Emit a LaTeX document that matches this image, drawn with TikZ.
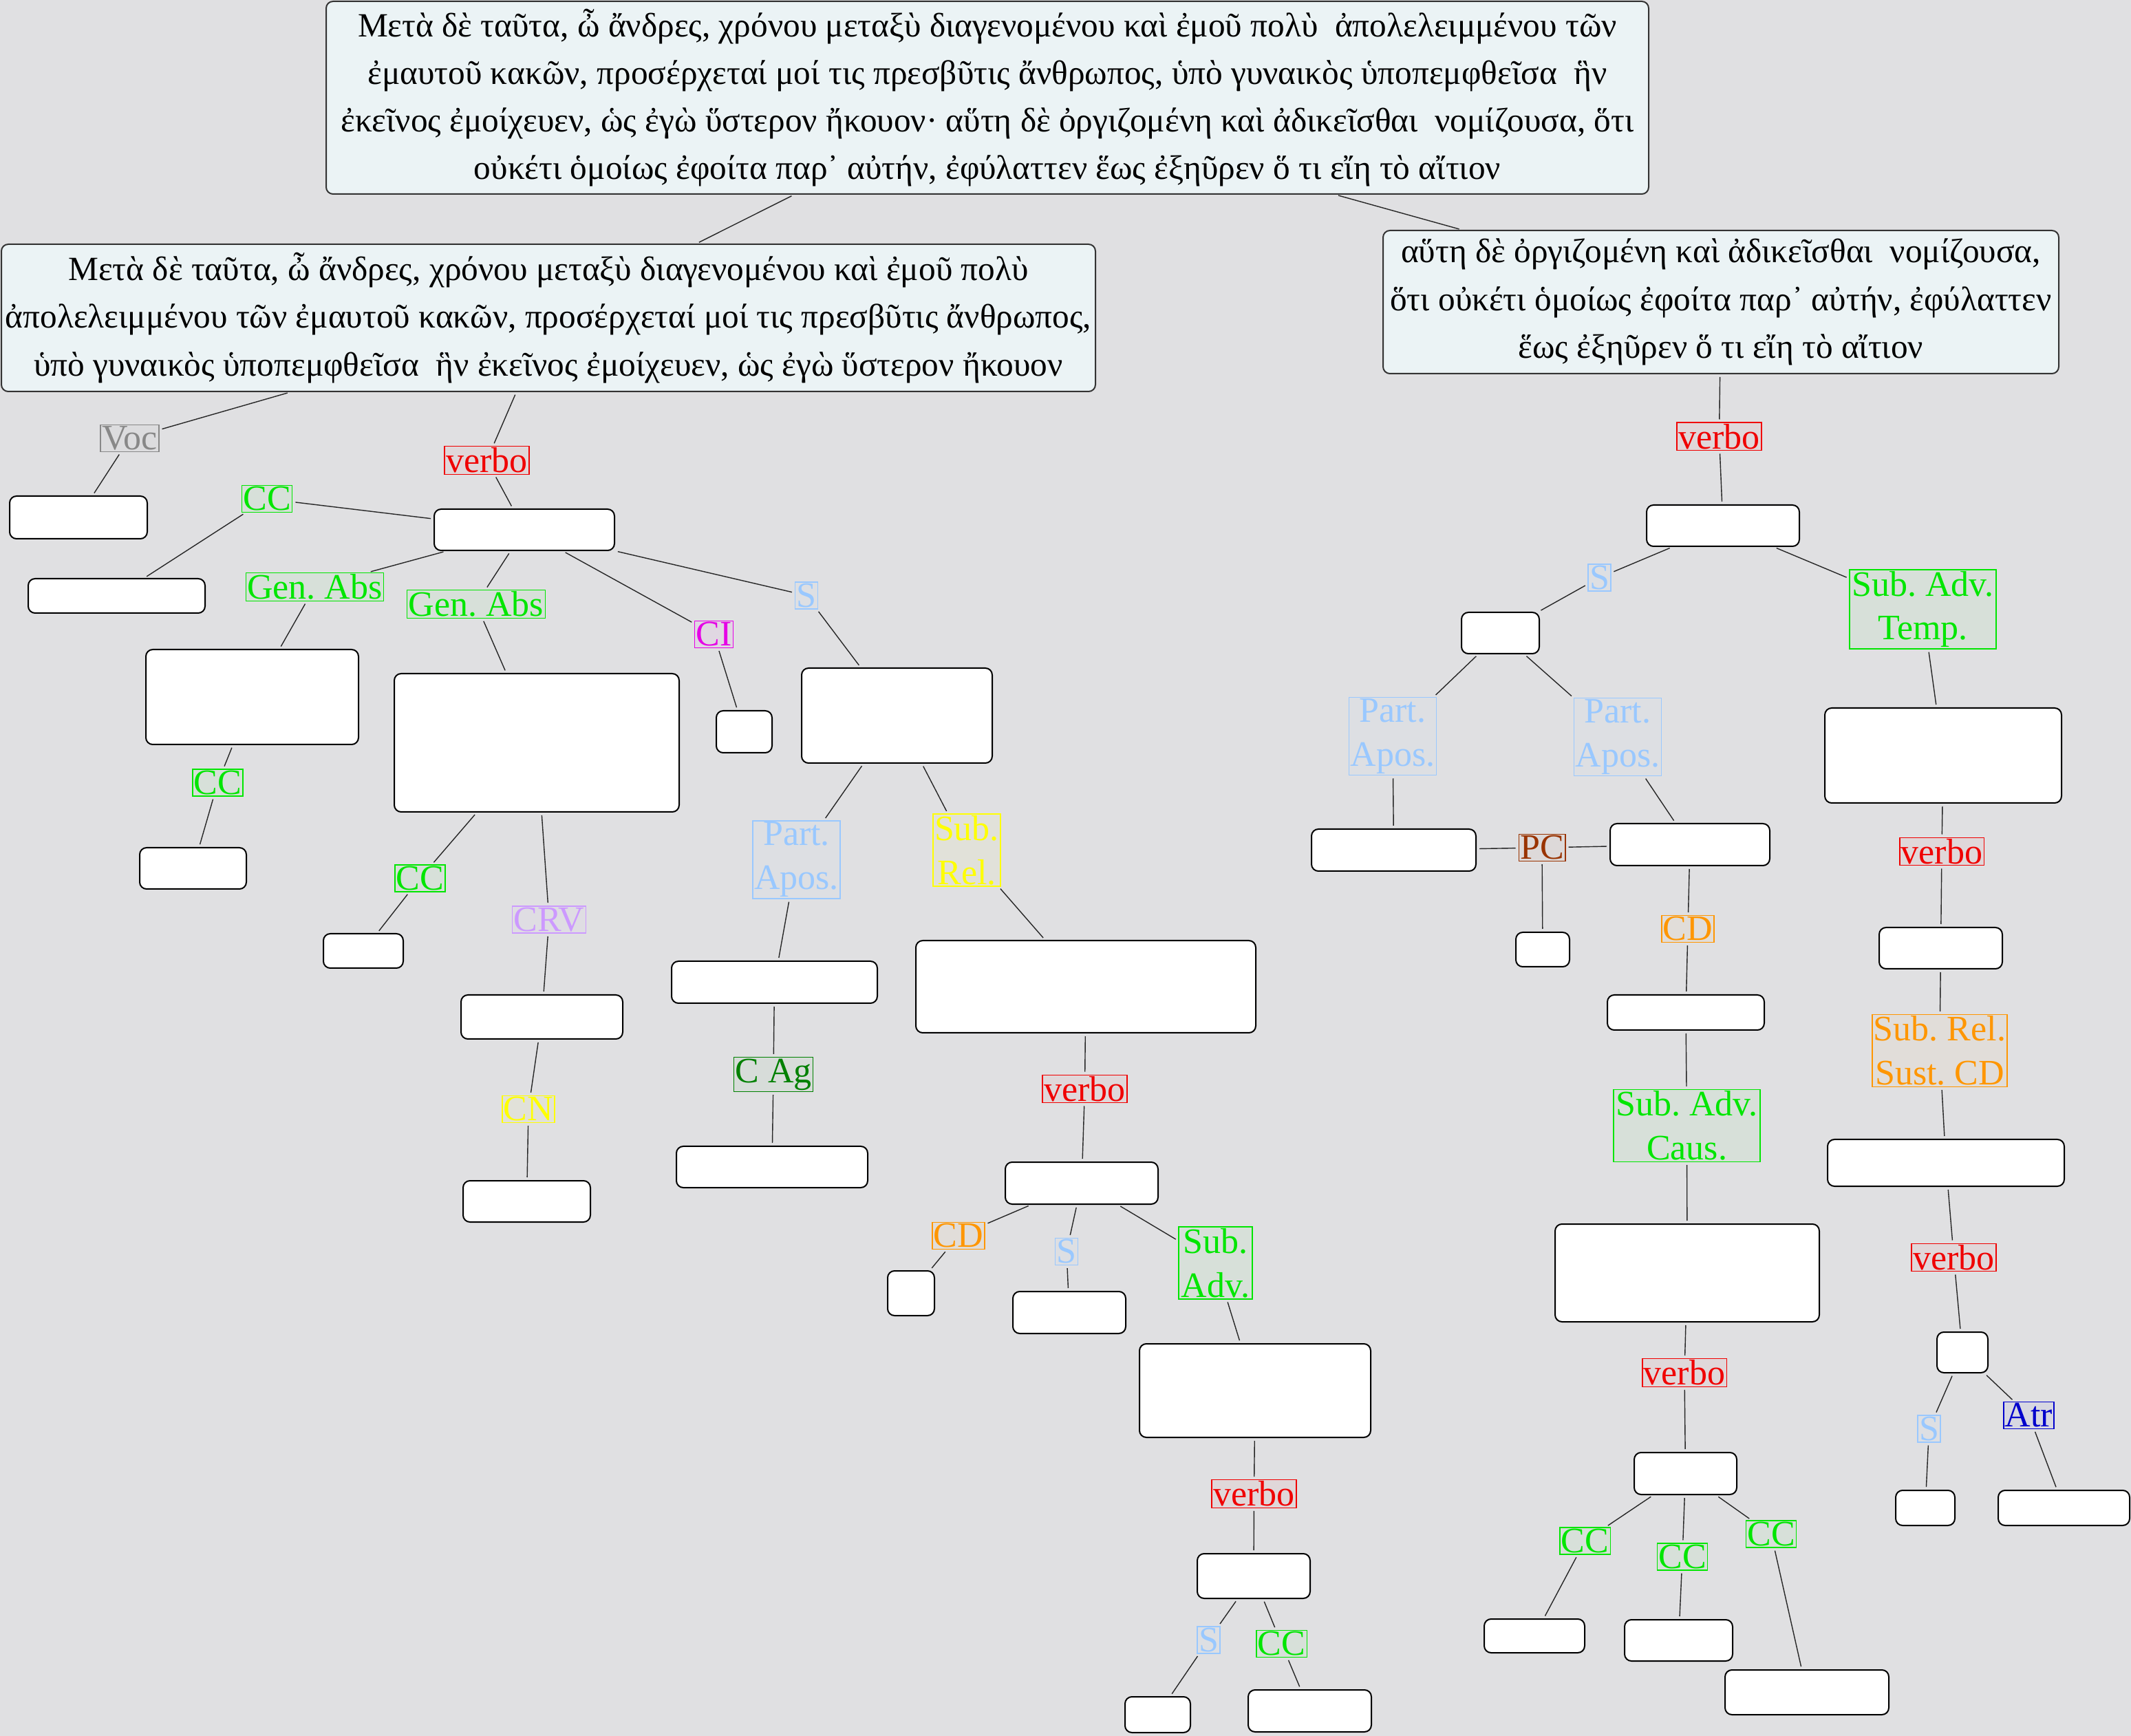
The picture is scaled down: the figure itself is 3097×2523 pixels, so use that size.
\documentclass[tikz,border=0pt]{standalone}
\usepackage{fontspec}
\setmainfont{Liberation Serif}
\frenchspacing
\definecolor{bg}{RGB}{224,224,226}
\definecolor{txtfill}{RGB}{235,243,245}
\definecolor{cgreen}{RGB}{0,230,0}
\definecolor{cred}{RGB}{240,0,0}
\definecolor{cgray}{RGB}{136,136,136}
\definecolor{cmag}{RGB}{230,0,230}
\definecolor{clblue}{RGB}{153,200,255}
\definecolor{cyellow}{RGB}{255,255,0}
\definecolor{clav}{RGB}{204,153,255}
\definecolor{cdgreen}{RGB}{0,128,0}
\definecolor{corange}{RGB}{255,150,0}
\definecolor{cbrown}{RGB}{153,51,0}
\definecolor{cblue}{RGB}{0,0,204}
\tikzset{
  box/.style={draw=black, line width=0.5pt, rounded corners=2.5pt, fill=white, inner sep=0pt},
  txt/.style={draw=black!80, line width=0.5pt, rounded corners=2.5pt, fill=txtfill, inner sep=0pt, align=center, font=\fontsize{12.33}{17.3}\selectfont},
  lab/.style={draw=#1, text=#1, fill=#1, fill opacity=0.04, text opacity=1, line width=0.35pt, inner sep=0.5pt, align=center, font=\fontsize{13}{16}\selectfont},
  link/.style={draw=black!85, line width=0.35pt, shorten <=1pt, shorten >=1pt}
}
\newcommand\mybox[6][]{\node[box,#1,minimum width={(#5-#3)*0.25pt},minimum height={(#6-#4)*0.25pt}] (#2) at ({(#3+#5)/2},{(#4+#6)/2}) {};}
\newcommand\mylab[7]{\node[lab=#2,minimum width={(#5-#3)*0.25pt},minimum height={(#6-#4)*0.25pt}] (#1) at ({(#3+#5)/2},{(#4+#6)/2}) {#7};}
\newcommand\mytxt[6]{\node[txt,minimum width={(#4-#2)*0.25pt},minimum height={(#5-#3)*0.25pt}] (#1) at ({(#2+#4)/2},{(#3+#5)/2}) {#6};}
\begin{document}
\begin{tikzpicture}[x=0.25pt,y=-0.25pt]
\useasboundingbox (0,0) rectangle (3097,2523);
\fill[bg] (0,0) rectangle (3097,2523);
% text boxes
\mytxt{T}{474}{2}{2396}{282}{Μετὰ δὲ ταῦτα, ὦ ἄνδρες, χρόνου μεταξὺ διαγενομένου καὶ ἐμοῦ πολὺ~ ἀπολελειμμένου τῶν\\ ἐμαυτοῦ κακῶν, προσέρχεταί μοί τις πρεσβῦτις ἄνθρωπος, ὑπὸ γυναικὸς ὑποπεμφθεῖσα~ ἣν\\ ἐκεῖνος ἐμοίχευεν, ὡς ἐγὼ ὕστερον ἤκουον· αὕτη δὲ ὀργιζομένη καὶ ἀδικεῖσθαι~ νομίζουσα, ὅτι\\ οὐκέτι ὁμοίως ἐφοίτα παρ᾽ αὐτήν, ἐφύλαττεν ἕως ἐξηῦρεν ὅ τι εἴη τὸ αἴτιον}
\mytxt{L}{2}{355}{1592}{569}{Μετὰ δὲ ταῦτα, ὦ ἄνδρες, χρόνου μεταξὺ διαγενομένου καὶ ἐμοῦ πολὺ\\ ἀπολελειμμένου τῶν ἐμαυτοῦ κακῶν, προσέρχεταί μοί τις πρεσβῦτις ἄνθρωπος,\\ ὑπὸ γυναικὸς ὑποπεμφθεῖσα~ ἣν ἐκεῖνος ἐμοίχευεν, ὡς ἐγὼ ὕστερον ἤκουον}
\mytxt{R}{2010}{335}{2992}{543}{αὕτη δὲ ὀργιζομένη καὶ ἀδικεῖσθαι~ νομίζουσα,\\ ὅτι οὐκέτι ὁμοίως ἐφοίτα παρ᾽ αὐτήν, ἐφύλαττεν\\ ἕως ἐξηῦρεν ὅ τι εἴη τὸ αἴτιον}
% left tree
\mylab{voc}{cgray}{146}{619}{231}{655}{Voc}
\mybox{bvoc}{14}{721}{214}{783}
\mylab{verbo1}{cred}{646}{651}{769}{687}{verbo}
\mybox{V1}{631}{740}{893}{800}
\mylab{cc1}{cgreen}{352}{707}{424}{743}{CC}
\mybox{bcc1}{41}{841}{298}{891}
\mylab{ga1}{cgreen}{359}{835}{556}{871}{Gen. Abs}
\mybox{bga1}{212}{944}{521}{1082}
\mylab{ga2}{cgreen}{594}{859}{790}{897}{Gen. Abs}
\mybox{bga2}{573}{979}{987}{1180}
\mylab{ci}{cmag}{1011}{904}{1064}{940}{CI}
\mybox{bci}{1041}{1033}{1122}{1094}
\mylab{s1}{clblue}{1158}{847}{1186}{884}{S}
\mybox{bs1}{1165}{971}{1442}{1109}
\mylab{cc2}{cgreen}{281}{1119}{352}{1156}{CC}
\mybox{bcc2}{203}{1232}{358}{1292}
\mylab{cc3}{cgreen}{575}{1258}{646}{1295}{CC}
\mybox{bcc3}{470}{1357}{586}{1407}
\mylab{crv}{clav}{747}{1318}{849}{1355}{CRV}
\mybox{bcrv}{670}{1446}{905}{1510}
\mylab{cn}{cyellow}{731}{1593}{805}{1631}{CN}
\mybox{bcn}{673}{1716}{858}{1776}
\mylab{pa1}{clblue}{1094}{1193}{1221}{1306}{Part.\\Apos.}
\mybox{bpa1}{976}{1397}{1275}{1458}
\mylab{cag}{cdgreen}{1068}{1537}{1180}{1586}{C Ag}
\mybox{bcag}{983}{1666}{1261}{1726}
\mylab{sr1}{cyellow}{1357}{1184}{1453}{1287}{Sub.\\Rel.}
\mybox{bsr1}{1331}{1367}{1825}{1501}
\mylab{verbo3}{cred}{1515}{1564}{1638}{1601}{verbo}
\mybox{V3}{1461}{1689}{1683}{1750}
\mylab{cd1}{corange}{1356}{1777}{1430}{1815}{CD}
\mybox{bcd1}{1290}{1847}{1358}{1912}
\mylab{s3}{clblue}{1537}{1800}{1563}{1838}{S}
\mybox{bs3}{1472}{1877}{1636}{1938}
\mylab{sa3}{cgreen}{1713}{1784}{1820}{1887}{Sub.\\Adv.}
\mybox{bsa3}{1656}{1953}{1992}{2089}
\mylab{verbo4}{cred}{1761}{2152}{1884}{2190}{verbo}
\mybox{V4}{1740}{2258}{1904}{2323}
\mylab{s4}{clblue}{1743}{2364}{1770}{2403}{S}
\mybox{bs4}{1635}{2466}{1730}{2518}
\mylab{cc4}{cgreen}{1827}{2370}{1898}{2408}{CC}
\mybox{bcc4}{1814}{2456}{1993}{2517}
% right tree
\mylab{verboR}{cred}{2437}{616}{2560}{653}{verbo}
\mybox{VR}{2393}{734}{2615}{794}
\mylab{sR}{clblue}{2311}{821}{2338}{858}{S}
\mybox{bsR}{2124}{890}{2237}{950}
\mylab{temp}{cgreen}{2688}{828}{2901}{943}{Sub. Adv.\\Temp.}
\mybox{btemp}{2652}{1029}{2996}{1167}
\mylab{paL}{clblue}{1961}{1014}{2087}{1126}{Part.\\Apos.}
\mybox{bpaL}{1906}{1205}{2145}{1266}
\mylab{paR}{clblue}{2288}{1015}{2414}{1127}{Part.\\Apos.}
\mybox{bpaR}{2340}{1197}{2572}{1258}
\mylab{pc}{cbrown}{2209}{1213}{2273}{1251}{PC}
\mybox{bpc}{2203}{1355}{2281}{1405}
\mylab{cdR}{corange}{2416}{1332}{2490}{1368}{CD}
\mybox{bcdR}{2336}{1446}{2564}{1497}
\mylab{caus}{cgreen}{2345}{1585}{2558}{1687}{Sub. Adv.\\Caus.}
\mybox{bcaus}{2260}{1779}{2644}{1921}
\mylab{verboC}{cred}{2387}{1977}{2509}{2013}{verbo}
\mybox{VC}{2375}{2111}{2524}{2172}
\mylab{ccA}{cgreen}{2268}{2221}{2339}{2258}{CC}
\mybox{bccA}{2157}{2353}{2303}{2402}
\mylab{ccB}{cgreen}{2410}{2244}{2480}{2281}{CC}
\mybox{bccB}{2361}{2354}{2518}{2414}
\mylab{ccC}{cgreen}{2539}{2211}{2609}{2248}{CC}
\mybox{bccC}{2507}{2427}{2745}{2492}
\mylab{verboT}{cred}{2761}{1219}{2883}{1256}{verbo}
\mybox{VT}{2731}{1348}{2910}{1408}
\mylab{srs}{corange}{2726}{1476}{2912}{1578}{Sub. Rel.\\Sust. CD}
\mybox{bsrs}{2656}{1656}{3000}{1724}
\mylab{verboS}{cred}{2778}{1809}{2901}{1846}{verbo}
\mybox{VS}{2815}{1936}{2889}{1995}
\mylab{sS}{clblue}{2790}{2058}{2817}{2095}{S}
\mybox{bsS}{2755}{2166}{2841}{2217}
\mylab{atr}{cblue}{2912}{2039}{2985}{2075}{Atr}
\mybox{batr}{2904}{2166}{3095}{2217}
% connectors
\draw[link] (T) -- (L);
\draw[link] (T) -- (R);
\draw[link] (L) -- (voc);   \draw[link] (voc) -- (bvoc);
\draw[link] (L) -- (verbo1); \draw[link] (verbo1) -- (V1);
\draw[link] (V1) -- (cc1);  \draw[link] (cc1) -- (bcc1);
\draw[link] (V1) -- (ga1);  \draw[link] (ga1) -- (bga1);
\draw[link] (V1) -- (ga2);  \draw[link] (ga2) -- (bga2);
\draw[link] (V1) -- (ci);   \draw[link] (ci) -- (bci);
\draw[link] (V1) -- (s1);   \draw[link] (s1) -- (bs1);
\draw[link] (bga1) -- (cc2); \draw[link] (cc2) -- (bcc2);
\draw[link] (bga2) -- (cc3); \draw[link] (cc3) -- (bcc3);
\draw[link] (bga2) -- (crv); \draw[link] (crv) -- (bcrv);
\draw[link] (bcrv) -- (cn);  \draw[link] (cn) -- (bcn);
\draw[link] (bs1) -- (pa1);  \draw[link] (pa1) -- (bpa1);
\draw[link] (bpa1) -- (cag); \draw[link] (cag) -- (bcag);
\draw[link] (bs1) -- (sr1);  \draw[link] (sr1) -- (bsr1);
\draw[link] (bsr1) -- (verbo3); \draw[link] (verbo3) -- (V3);
\draw[link] (V3) -- (cd1);  \draw[link] (cd1) -- (bcd1);
\draw[link] (V3) -- (s3);   \draw[link] (s3) -- (bs3);
\draw[link] (V3) -- (sa3);  \draw[link] (sa3) -- (bsa3);
\draw[link] (bsa3) -- (verbo4); \draw[link] (verbo4) -- (V4);
\draw[link] (V4) -- (s4);   \draw[link] (s4) -- (bs4);
\draw[link] (V4) -- (cc4);  \draw[link] (cc4) -- (bcc4);
\draw[link] (R) -- (verboR); \draw[link] (verboR) -- (VR);
\draw[link] (VR) -- (sR);   \draw[link] (sR) -- (bsR);
\draw[link] (VR) -- (temp); \draw[link] (temp) -- (btemp);
\draw[link] (bsR) -- (paL); \draw[link] (paL) -- (bpaL);
\draw[link] (bsR) -- (paR); \draw[link] (paR) -- (bpaR);
\draw[link] (bpaL) -- (pc); \draw[link] (pc) -- (bpaR); \draw[link] (pc) -- (bpc);
\draw[link] (bpaR) -- (cdR); \draw[link] (cdR) -- (bcdR);
\draw[link] (bcdR) -- (caus); \draw[link] (caus) -- (bcaus);
\draw[link] (bcaus) -- (verboC); \draw[link] (verboC) -- (VC);
\draw[link] (VC) -- (ccA);  \draw[link] (ccA) -- (bccA);
\draw[link] (VC) -- (ccB);  \draw[link] (ccB) -- (bccB);
\draw[link] (VC) -- (ccC);  \draw[link] (ccC) -- (bccC);
\draw[link] (btemp) -- (verboT); \draw[link] (verboT) -- (VT);
\draw[link] (VT) -- (srs);  \draw[link] (srs) -- (bsrs);
\draw[link] (bsrs) -- (verboS); \draw[link] (verboS) -- (VS);
\draw[link] (VS) -- (sS);   \draw[link] (sS) -- (bsS);
\draw[link] (VS) -- (atr);  \draw[link] (atr) -- (batr);
\end{tikzpicture}
\end{document}
